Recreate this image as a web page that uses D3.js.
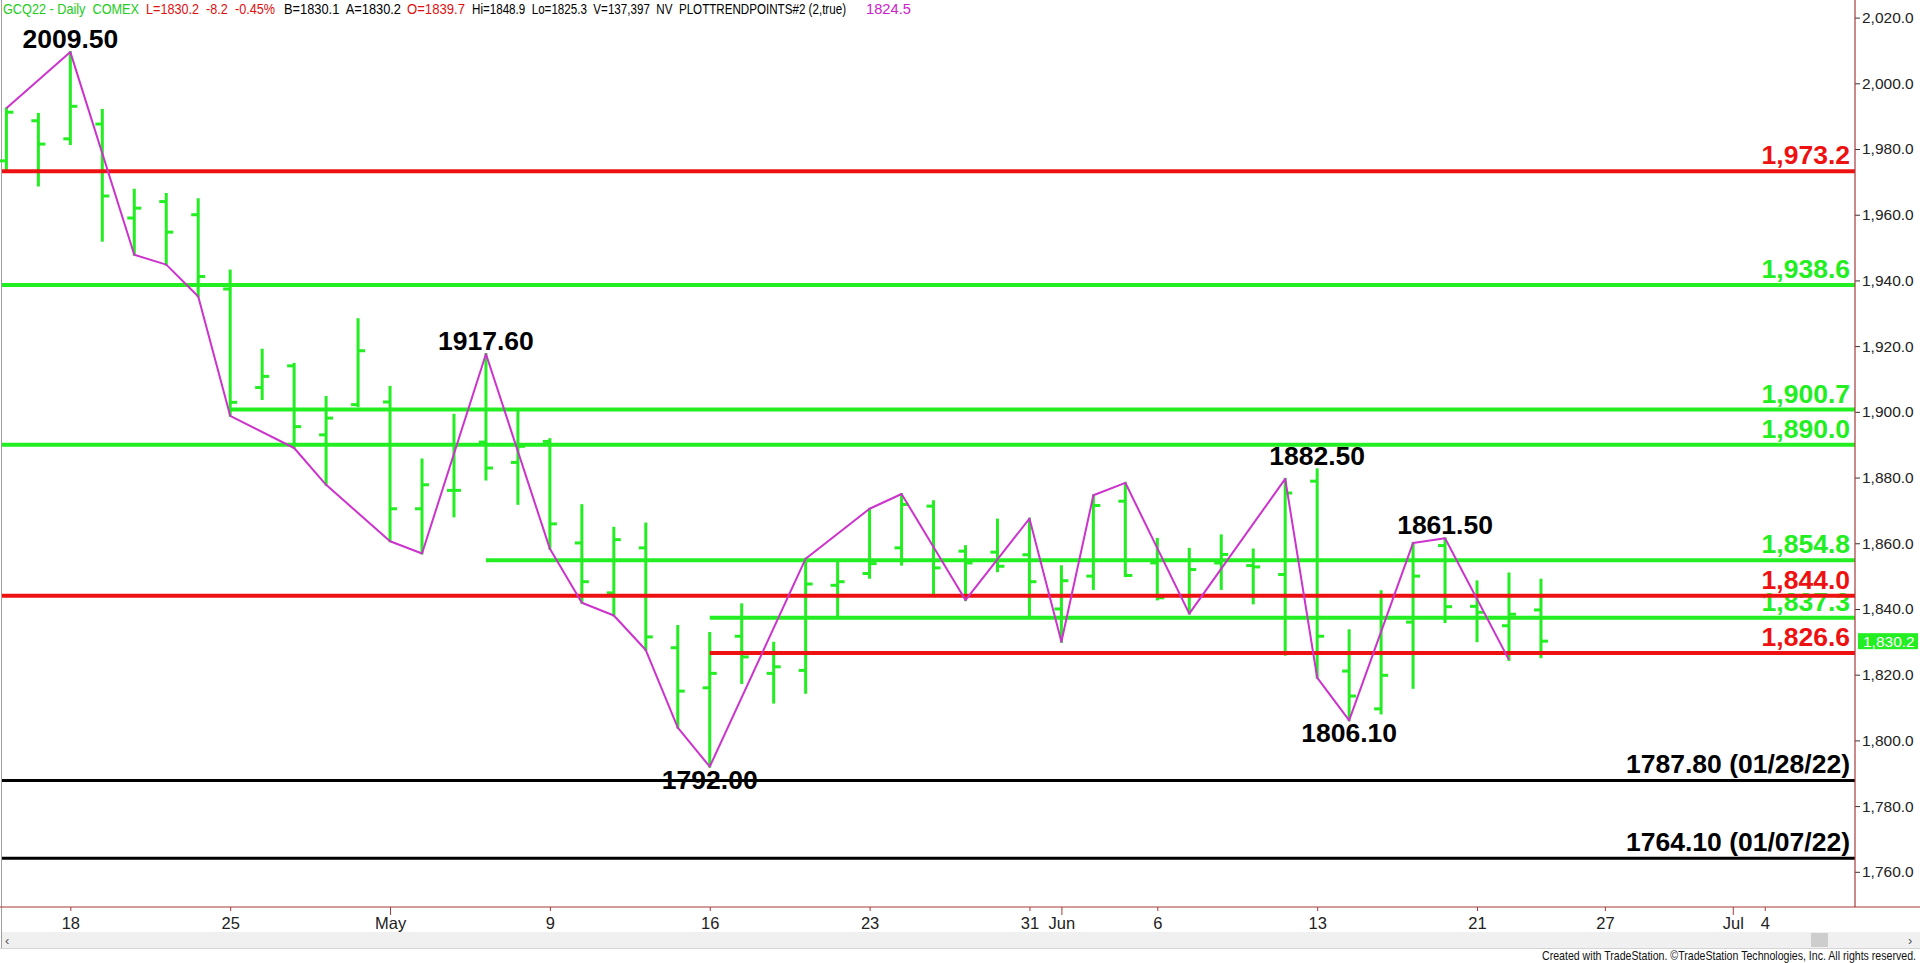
<!DOCTYPE html>
<html>
<head>
<meta charset="utf-8">
<script src="https://cdn.jsdelivr.net/npm/d3@7"></script>
<style>
  html, body { margin: 0; padding: 0; background: #ffffff; overflow: hidden; }
  svg { display: block; }
</style>
</head>
<body>
<div id="chart"></div>
<script>
// ---------------- DATA ----------------
const barDates = ["2022-04-13","2022-04-14","2022-04-18","2022-04-19","2022-04-20","2022-04-21","2022-04-22",
  "2022-04-25","2022-04-26","2022-04-27","2022-04-28","2022-04-29","2022-05-02","2022-05-03","2022-05-04",
  "2022-05-05","2022-05-06","2022-05-09","2022-05-10","2022-05-11","2022-05-12","2022-05-13","2022-05-16",
  "2022-05-17","2022-05-18","2022-05-19","2022-05-20","2022-05-23","2022-05-24","2022-05-25","2022-05-26",
  "2022-05-27","2022-05-31","2022-06-01","2022-06-02","2022-06-03","2022-06-06","2022-06-07","2022-06-08",
  "2022-06-09","2022-06-10","2022-06-13","2022-06-14","2022-06-15","2022-06-16","2022-06-17","2022-06-21",
  "2022-06-22","2022-06-23"];
const futureDates = ["2022-06-24","2022-06-27","2022-06-28","2022-06-29","2022-06-30","2022-07-01",
  "2022-07-04","2022-07-05","2022-07-06"];
const opens  = [1976.4,1988.6,1983.1,1987.6,1959.0,1964.0,1960.0,1937.4,1907.4,1914.0,1893.0,1902.2,1903.0,
  1870.5,1876.1,1890.8,1884.6,1891.0,1860.1,1844.9,1858.6,1828.2,1816.0,1831.7,1820.4,1821.3,1847.2,1850.8,
  1858.6,1871.3,1857.6,1857.3,1856.5,1840.0,1850.0,1872.8,1854.0,1843.9,1854.0,1853.2,1850.5,1878.9,1821.1,
  1809.6,1836.0,1859.3,1840.8,1834.9,1839.7];
const highs  = [1992.4,1990.7,2009.5,1991.9,1967.6,1966.3,1964.7,1943.0,1918.9,1914.6,1904.5,1928.2,1907.6,
  1885.5,1899.1,1917.6,1900.7,1891.7,1871.6,1864.7,1866.0,1834.8,1832.7,1841.4,1829.7,1855.3,1854.5,1870.5,
  1875.0,1872.8,1859.1,1867.2,1867.5,1853.0,1874.6,1878.4,1861.3,1858.3,1862.4,1858.1,1879.6,1882.5,1833.5,
  1845.4,1860.1,1861.5,1848.4,1850.8,1848.9];
const lows   = [1973.6,1968.9,1981.5,1952.1,1947.8,1944.8,1935.1,1898.8,1903.9,1889.0,1877.8,1901.7,1860.6,
  1856.9,1868.2,1879.4,1872.0,1858.3,1841.9,1838.0,1827.5,1803.9,1792.0,1817.5,1811.5,1814.5,1837.8,1849.5,
  1853.5,1843.9,1842.7,1851.5,1837.6,1830.0,1846.1,1850.0,1842.9,1838.6,1846.1,1841.7,1826.1,1819.1,1806.1,
  1808.2,1816.0,1836.0,1830.2,1824.5,1825.3];
const closes = [1991.2,1981.5,1993.0,1965.7,1962.0,1954.7,1941.2,1902.9,1910.8,1895.5,1898.1,1918.6,1870.5,
  1877.8,1876.1,1882.9,1889.5,1865.9,1848.3,1861.1,1831.5,1815.0,1820.4,1825.4,1822.4,1847.6,1848.3,1853.8,
  1871.8,1852.5,1854.0,1853.0,1848.3,1848.6,1871.5,1850.2,1843.4,1852.0,1856.6,1852.8,1875.3,1831.7,1813.5,
  1819.8,1850.0,1840.7,1839.0,1838.4,1830.2];

const zigzagDates = ["2022-04-13","2022-04-18","2022-04-20","2022-04-21","2022-04-22","2022-04-25","2022-04-27",
  "2022-04-28","2022-05-02","2022-05-03","2022-05-05","2022-05-09","2022-05-10","2022-05-11","2022-05-12",
  "2022-05-13","2022-05-16","2022-05-19","2022-05-23","2022-05-24","2022-05-26","2022-05-31","2022-06-01",
  "2022-06-02","2022-06-03","2022-06-07","2022-06-10","2022-06-13","2022-06-14","2022-06-16","2022-06-17",
  "2022-06-22"];
const zigzagValues = [1992.4,2009.5,1947.8,1944.8,1935.1,1898.8,1889.0,1877.8,1860.6,1856.9,1917.6,1858.3,
  1841.9,1838.0,1827.5,1803.9,1792.0,1855.3,1870.5,1875.0,1842.7,1867.5,1830.0,1874.6,1878.4,1838.6,1879.6,
  1819.1,1806.1,1860.1,1861.5,1824.5];

const swingDates  = ["2022-04-18","2022-05-05","2022-05-16","2022-06-13","2022-06-14","2022-06-17"];
const swingValues = [2009.5,1917.6,1792.0,1882.5,1806.1,1861.5];
const swingSides  = ["high","high","low","high","low","high"];

const levelValues = [1973.2,1938.6,1900.7,1890.0,1854.8,1844.0,1837.3,1826.6,1787.80,1764.10];
const levelLabels = ["1,973.2","1,938.6","1,900.7","1,890.0","1,854.8","1,844.0","1,837.3","1,826.6",
  "1787.80 (01/28/22)","1764.10 (01/07/22)"];
const levelKinds  = ["resistance","support","support","support","support","resistance","support","resistance","old","old"];
const levelStarts = [null,null,"2022-04-25",null,"2022-05-05",null,"2022-05-16","2022-05-16",null,null];

const yTickValues = [1760,1780,1800,1820,1840,1860,1880,1900,1920,1940,1960,1980,2000,2020];
const xTickDates  = ["2022-04-18","2022-04-25","2022-05-02","2022-05-09","2022-05-16","2022-05-23","2022-05-31",
  "2022-06-01","2022-06-06","2022-06-13","2022-06-21","2022-06-27","2022-07-01","2022-07-04"];
const xTickLabels = ["18","25","May","9","16","23","31","Jun","6","13","21","27","Jul","4"];

const lastPrice = 1830.2;
const headerParts = [
  {text: "GCQ22 - Daily  COMEX", kind: "sym"},
  {text: "L=1830.2  -8.2  -0.45%", kind: "neg"},
  {text: "B=1830.1  A=1830.2", kind: "plain"},
  {text: "O=1839.7", kind: "neg"},
  {text: "Hi=1848.9  Lo=1825.3  V=137,397  NV  PLOTTRENDPOINTS#2 (2,true)", kind: "plain"},
  {text: "1824.5", kind: "ind"}
];
const footerText = "Created with TradeStation. \u00A9TradeStation Technologies, Inc. All rights reserved.";

// ---------------- LAYOUT / STYLE ----------------
const W = 1920, H = 963;
const axisX = 1855, axisY = 907;
const GREEN = "#22ee22", RED = "#ee1111", MAGENTA = "#cc33cc", AXIS = "#a83a3a";
const kindColor = {resistance: RED, support: GREEN, old: "#000000"};
const headerColor = {sym: "#22cc22", neg: "#e01010", plain: "#000000", ind: "#cc22cc"};
const headerX = [3, 146, 284, 407, 472, 866];
const headerW = [136, 129, 117, 58, 374, 45];
const NARROW = "'Liberation Sans Narrow','Arial Narrow','Liberation Sans',Arial,sans-serif";
const SANS = "'Liberation Sans',Arial,Helvetica,sans-serif";

const allDates = barDates.concat(futureDates);
const x = d3.scalePoint().domain(allDates).range([6.4, 6.4 + (allDates.length - 1) * 31.97]);
const y = d3.scaleLinear().domain([1760, 2020]).range([871.8, 17.6]);

const bars = barDates.map((d, i) => ({date: d, o: opens[i], h: highs[i], l: lows[i], c: closes[i]}));

const svg = d3.select("#chart").append("svg").attr("width", W).attr("height", H);
svg.append("rect").attr("width", W).attr("height", H).attr("fill", "#ffffff");

// left border
svg.append("line").attr("x1", 1.5).attr("x2", 1.5).attr("y1", 0).attr("y2", 948)
  .attr("stroke", "#a0a0a0").attr("stroke-width", 1);

// header
const hdr = svg.append("g").attr("font-family", NARROW).attr("font-size", 15);
headerParts.forEach((p, i) => {
  hdr.append("text").attr("x", headerX[i]).attr("y", 13.5)
    .attr("fill", headerColor[p.kind])
    .attr("textLength", headerW[i]).attr("lengthAdjust", "spacingAndGlyphs")
    .style("white-space", "pre").attr("xml:space", "preserve")
    .text(p.text);
});

// bars
const gBars = svg.append("g").attr("stroke", GREEN).attr("stroke-width", 3);
const bg = gBars.selectAll("g.bar").data(bars).join("g").attr("class", "bar");
bg.append("line").attr("x1", d => x(d.date)).attr("x2", d => x(d.date))
  .attr("y1", d => y(d.h) - 1).attr("y2", d => y(d.l) + 1);
bg.append("line").attr("x1", d => x(d.date) - 7).attr("x2", d => x(d.date))
  .attr("y1", d => y(d.o)).attr("y2", d => y(d.o));
bg.append("line").attr("x1", d => x(d.date)).attr("x2", d => x(d.date) + 7)
  .attr("y1", d => y(d.c)).attr("y2", d => y(d.c));

// level labels
const gLevLab = svg.append("g").attr("font-family", SANS).attr("font-weight", "bold").attr("font-size", 26.5)
  .attr("text-anchor", "end");
levelValues.forEach((v, i) => {
  gLevLab.append("text").attr("x", 1850).attr("y", y(v) - 7)
    .attr("fill", kindColor[levelKinds[i]]).text(levelLabels[i]);
});

// level lines
const gLev = svg.append("g");
levelValues.forEach((v, i) => {
  gLev.append("line")
    .attr("x1", levelStarts[i] ? x(levelStarts[i]) : 2).attr("x2", axisX)
    .attr("y1", y(v)).attr("y2", y(v))
    .attr("stroke", kindColor[levelKinds[i]])
    .attr("stroke-width", levelKinds[i] === "old" ? 3 : 4);
});

// zigzag
const zz = zigzagDates.map((d, i) => [x(d), y(zigzagValues[i])]);
svg.append("path").attr("d", d3.line()(zz)).attr("fill", "none")
  .attr("stroke", MAGENTA).attr("stroke-width", 2).attr("stroke-linejoin", "round");

// swing labels
const gSw = svg.append("g").attr("font-family", SANS).attr("font-weight", "bold").attr("font-size", 26.5)
  .attr("text-anchor", "middle").attr("fill", "#000");
swingDates.forEach((d, i) => {
  const yy = swingSides[i] === "high" ? y(swingValues[i]) - 4 : y(swingValues[i]) + 22;
  gSw.append("text").attr("x", x(d)).attr("y", yy).text(swingValues[i].toFixed(2));
});

// right axis
const yAxis = d3.axisRight(y).tickValues(yTickValues).tickFormat(d3.format(",.1f")).tickSize(5).tickPadding(2);
const gy = svg.append("g").attr("transform", `translate(${axisX},0)`).call(yAxis);
gy.select(".domain").remove();
gy.selectAll(".tick line").attr("stroke", "#333");
gy.selectAll(".tick text").attr("font-family", SANS).attr("font-size", 15.5).attr("fill", "#222");
svg.append("line").attr("x1", axisX).attr("x2", axisX).attr("y1", 0).attr("y2", axisY)
  .attr("stroke", AXIS).attr("stroke-width", 1.2);

// last price marker
const lp = svg.append("g");
lp.append("rect").attr("x", axisX + 3).attr("y", y(lastPrice) - 8).attr("width", 60).attr("height", 16)
  .attr("fill", GREEN);
lp.append("text").attr("x", axisX + 8).attr("y", y(lastPrice) + 5.5).attr("fill", "#ffffff")
  .attr("font-family", SANS).attr("font-size", 15.5).text(d3.format(",.1f")(lastPrice));

// bottom axis
const monthLabels = new Set(["May", "Jun", "Jul"]);
const xAxis = d3.axisBottom(x).tickValues(xTickDates).tickFormat((d, i) => xTickLabels[i]).tickSize(4);
const gx = svg.append("g").attr("transform", `translate(0,${axisY})`).call(xAxis);
gx.select(".domain").remove();
gx.selectAll(".tick line").attr("stroke", AXIS)
  .attr("y2", (d, i) => monthLabels.has(xTickLabels[i]) ? 8 : 4);
gx.selectAll(".tick text").attr("font-family", NARROW).attr("font-size", 16.5).attr("fill", "#222")
  .attr("y", 22).attr("dy", 0);
svg.append("line").attr("x1", 0).attr("x2", W).attr("y1", axisY).attr("y2", axisY)
  .attr("stroke", AXIS).attr("stroke-width", 1.2);

// scrollbar
svg.append("rect").attr("x", 2).attr("y", 932).attr("width", W - 2).attr("height", 16).attr("fill", "#f0f0f0");
svg.append("line").attr("x1", 0).attr("x2", W).attr("y1", 948.5).attr("y2", 948.5).attr("stroke", "#d4d4d4");
svg.append("rect").attr("x", 1811).attr("y", 933).attr("width", 17).attr("height", 14).attr("fill", "#cdcdcd");
svg.append("text").attr("x", 5).attr("y", 945).attr("font-family", SANS).attr("font-size", 13).attr("fill", "#555").text("\u2039");
svg.append("text").attr("x", 1908).attr("y", 945).attr("font-family", SANS).attr("font-size", 13).attr("fill", "#555").text("\u203A");

// footer
svg.append("text").attr("x", 1916).attr("y", 960).attr("text-anchor", "end")
  .attr("font-family", NARROW).attr("font-size", 13).attr("fill", "#111")
  .attr("textLength", 374).attr("lengthAdjust", "spacingAndGlyphs").text(footerText);
</script>
</body>
</html>
